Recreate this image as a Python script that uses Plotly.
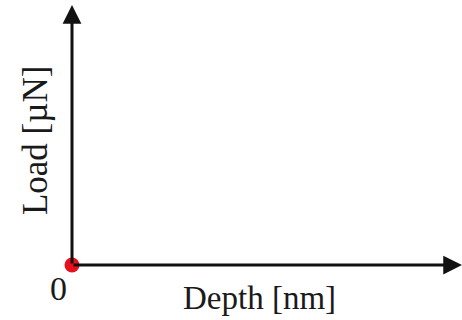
import plotly.graph_objects as go

# Data
origin_x = [0]
origin_y = [0]
x_limits = [0, 1]
y_limits = [0, 1]
tick_labels = ["0"]
x_title = "Depth [nm]"
y_title = "Load [µN]"

FONT = "Liberation Serif, Times New Roman, serif"
TXT = "#1a1a1a"

fig = go.Figure()

fig.add_trace(go.Scatter(
    x=origin_x, y=origin_y, mode="markers",
    marker=dict(color="#e8101c", size=15, line=dict(width=0)),
    cliponaxis=False, showlegend=False, hoverinfo="skip",
))

arrow_common = dict(
    xref="x", yref="y", axref="x", ayref="y", text="",
    showarrow=True, arrowhead=2, arrowsize=1.25, arrowwidth=3,
    arrowcolor="#111111", standoff=0, startstandoff=0,
)
# x axis arrow
fig.add_annotation(x=x_limits[1], y=origin_y[0], ax=origin_x[0], ay=origin_y[0], **arrow_common)
# y axis arrow
fig.add_annotation(x=origin_x[0], y=y_limits[1], ax=origin_x[0], ay=origin_y[0], **arrow_common)

# origin tick label
fig.add_annotation(x=origin_x[0], y=origin_y[0], xref="x", yref="y", text=tick_labels[0],
                   showarrow=False, xanchor="center", yanchor="middle",
                   xshift=-14, yshift=-23, font=dict(family=FONT, size=34, color=TXT))
# axis titles
fig.add_annotation(x=0.482, y=0, xref="paper", yref="paper", text=x_title,
                   showarrow=False, xanchor="center", yanchor="middle",
                   yshift=-33, font=dict(family=FONT, size=33, color=TXT))
fig.add_annotation(x=-0.092, y=0.477, xref="paper", yref="paper", text=y_title,
                   showarrow=False, xanchor="center", yanchor="middle", textangle=-90,
                   font=dict(family=FONT, size=35, color=TXT))

fig.update_xaxes(range=x_limits, visible=False, fixedrange=True)
fig.update_yaxes(range=y_limits, visible=False, fixedrange=True)

fig.update_layout(
    width=462, height=320,
    margin=dict(l=72, r=0, t=5, b=55),
    paper_bgcolor="white", plot_bgcolor="white",
    showlegend=False,
)

fig.write_html("out.html", config={"displayModeBar": False})
